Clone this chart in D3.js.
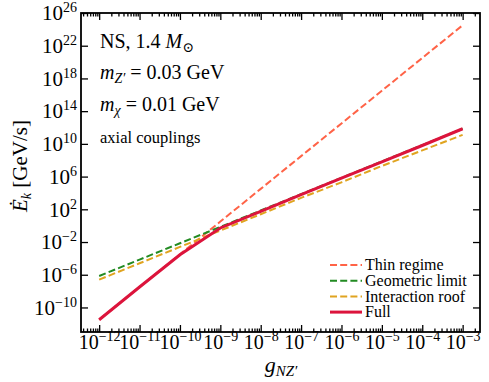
<!DOCTYPE html>
<html lang="en">
<head>
<meta charset="UTF-8">
<title>Energy deposition vs coupling</title>
<style>
  body { margin: 0; background: #fff; }
  svg { display: block; font-family: "Liberation Serif", "DejaVu Serif", serif; }
</style>
<script src="https://cdn.jsdelivr.net/npm/d3@7"></script>
</head>
<body>
<div id="chart"></div>
<script>
// coupling g_NZ' sample points
const gValues = [1e-12, 1e-11, 1e-10, 1e-9, 1e-8, 1e-7, 1e-6, 1e-5, 1e-4, 1e-3];
// log10 of E_k [GeV/s]
const thinRegime      = [-11.5, -7.5, -3.5, 0.5, 4.5, 8.5, 12.5, 16.5, 20.5, 24.5];
const geometricLimit  = [-6.15, -4.15, -2.15, -0.15, 1.85, 3.85, 5.85, 7.85, 9.85, 11.85];
const interactionRoof = [-6.6, -4.6, -2.6, -0.6, 1.4, 3.4, 5.3, 7.3, 9.2, 11.1];
const fullResult      = [-11.5, -7.5, -3.55, -0.28, 1.75, 3.8, 5.8, 7.8, 9.8, 11.85];

const seriesNames = ["Thin regime", "Geometric limit", "Interaction roof", "Full"];
const seriesData = [thinRegime, geometricLimit, interactionRoof, fullResult];

// tick exponents
const xTickExps = [-12, -11, -10, -9, -8, -7, -6, -5, -4, -3];
const yTickExps = [-10, -6, -2, 2, 6, 10, 14, 18, 22, 26];

const styles = [
  { color: "#ff6347", width: 2, dash: "7,3.2" },
  { color: "#228b22", width: 2, dash: "7,3.2" },
  { color: "#e0a420", width: 2, dash: "7,3.2" },
  { color: "#dc143c", width: 3, dash: null }
];

const W = 489, H = 382;
const margin = { top: 13, right: 9, bottom: 50, left: 81 };
const width = W - margin.left - margin.right,
      height = H - margin.top - margin.bottom;

const svg = d3.select("#chart").append("svg")
    .attr("width", W).attr("height", H);
const g = svg.append("g")
    .attr("transform", `translate(${margin.left},${margin.top})`);

const x = d3.scaleLog().domain([10 ** -12.45, 10 ** -2.57]).range([0, width]);
const y = d3.scaleLog().domain([1e-13, 1e26]).range([height, 0]);

const minus = s => String(s).replace("-", "\u2212");

// minor x ticks 2..9 x 10^n
const xMinor = [];
for (let e = -13; e <= -3; e++) {
  for (let k = 2; k <= 9; k++) {
    const v = k * 10 ** e;
    if (v >= x.domain()[0] && v <= x.domain()[1]) xMinor.push(v);
  }
}

function supLabels(sel) {
  sel.selectAll(".tick text").each(function(d) {
    const t = d3.select(this);
    const e = Math.round(Math.log10(d));
    t.text(null);
    t.append("tspan").text("10");
    t.append("tspan").attr("dy", -8).attr("font-size", 14).text(minus(e));
  });
}

// clip
g.append("clipPath").attr("id", "clip")
  .append("rect").attr("width", width).attr("height", height);

// lines
const line = d3.line()
    .x((d, i) => x(gValues[i]))
    .y(d => y(10 ** d));

seriesData.forEach((s, i) => {
  g.append("path")
    .datum(s)
    .attr("clip-path", "url(#clip)")
    .attr("fill", "none")
    .attr("stroke", styles[i].color)
    .attr("stroke-width", styles[i].width)
    .attr("stroke-dasharray", styles[i].dash)
    .attr("d", line);
});

// axes: ticks point inward
const bottom = g.append("g").attr("transform", `translate(0,${height})`)
    .call(d3.axisBottom(x).tickValues(xTickExps.map(e => 10 ** e)).tickSize(-7).tickPadding(3));
bottom.attr("font-family", null);
supLabels(bottom);
bottom.selectAll("text").attr("font-size", 20);
g.append("g").attr("transform", `translate(0,${height})`)
    .call(d3.axisBottom(x).tickValues(xMinor).tickSize(-3.5).tickFormat(""));

g.append("g")
    .call(d3.axisTop(x).tickValues(xTickExps.map(e => 10 ** e)).tickSize(-7).tickFormat(""));
g.append("g")
    .call(d3.axisTop(x).tickValues(xMinor).tickSize(-3.5).tickFormat(""));

const left = g.append("g")
    .call(d3.axisLeft(y).tickValues(yTickExps.map(e => 10 ** e)).tickSize(-7).tickPadding(4));
left.attr("font-family", null);
supLabels(left);
left.selectAll("text").attr("font-size", 21);

g.append("g").attr("transform", `translate(${width},0)`)
    .call(d3.axisRight(y).tickValues(yTickExps.map(e => 10 ** e)).tickSize(-7).tickFormat(""));

g.selectAll(".domain").remove();
g.selectAll(".tick line").attr("stroke", "#000").attr("stroke-width", 1.3);

g.append("rect")
    .attr("width", width).attr("height", height)
    .attr("fill", "none").attr("stroke", "#000").attr("stroke-width", 1.8);

// axis labels
const xl = svg.append("text")
    .attr("x", 281).attr("y", 372)
    .attr("text-anchor", "middle")
    .attr("font-size", 22);
xl.append("tspan").attr("font-style", "italic").text("g");
xl.append("tspan").attr("font-style", "italic").attr("font-size", 15).attr("dy", 4).text("NZ\u2032");

const yl = svg.append("text")
    .attr("transform", "translate(27,166) rotate(-90)")
    .attr("text-anchor", "middle")
    .attr("font-size", 21);
yl.append("tspan").attr("font-style", "italic").text("\u0116");
yl.append("tspan").attr("font-style", "italic").attr("font-size", 14).attr("dy", 4).text("k");
yl.append("tspan").attr("dy", -4).text(" [GeV/s]");

// annotations
const a1 = g.append("text").attr("x", 19).attr("y", 35).attr("font-size", 20);
a1.append("tspan").text("NS, 1.4 ");
a1.append("tspan").attr("font-style", "italic").text("M");
a1.append("tspan").attr("font-size", 14).attr("dy", 4).text("\u2299");

const a2 = g.append("text").attr("x", 19).attr("y", 66).attr("font-size", 20);
a2.append("tspan").attr("font-style", "italic").text("m");
a2.append("tspan").attr("font-style", "italic").attr("font-size", 14).attr("dy", 4).text("Z\u2032");
a2.append("tspan").attr("dy", -4).text(" = 0.03 GeV");

const a3 = g.append("text").attr("x", 19).attr("y", 98).attr("font-size", 20);
a3.append("tspan").attr("font-style", "italic").text("m");
a3.append("tspan").attr("font-style", "italic").attr("font-size", 14).attr("dy", 4).text("\u03c7");
a3.append("tspan").attr("dy", -4).text(" = 0.01 GeV");

g.append("text").attr("x", 19).attr("y", 130).attr("font-size", 16.5).text("axial couplings");

// legend
const legend = g.append("g").attr("transform", `translate(${330 - margin.left},${265 - margin.top})`);
seriesNames.forEach((name, i) => {
  const row = legend.append("g").attr("transform", `translate(0,${i * 15.7})`);
  row.append("line")
    .attr("x1", 0).attr("x2", 32)
    .attr("stroke", styles[i].color)
    .attr("stroke-width", styles[i].width)
    .attr("stroke-dasharray", styles[i].dash);
  row.append("text").attr("x", 35).attr("dy", "0.32em")
    .attr("font-size", 16).text(name);
});
</script>
</body>
</html>
